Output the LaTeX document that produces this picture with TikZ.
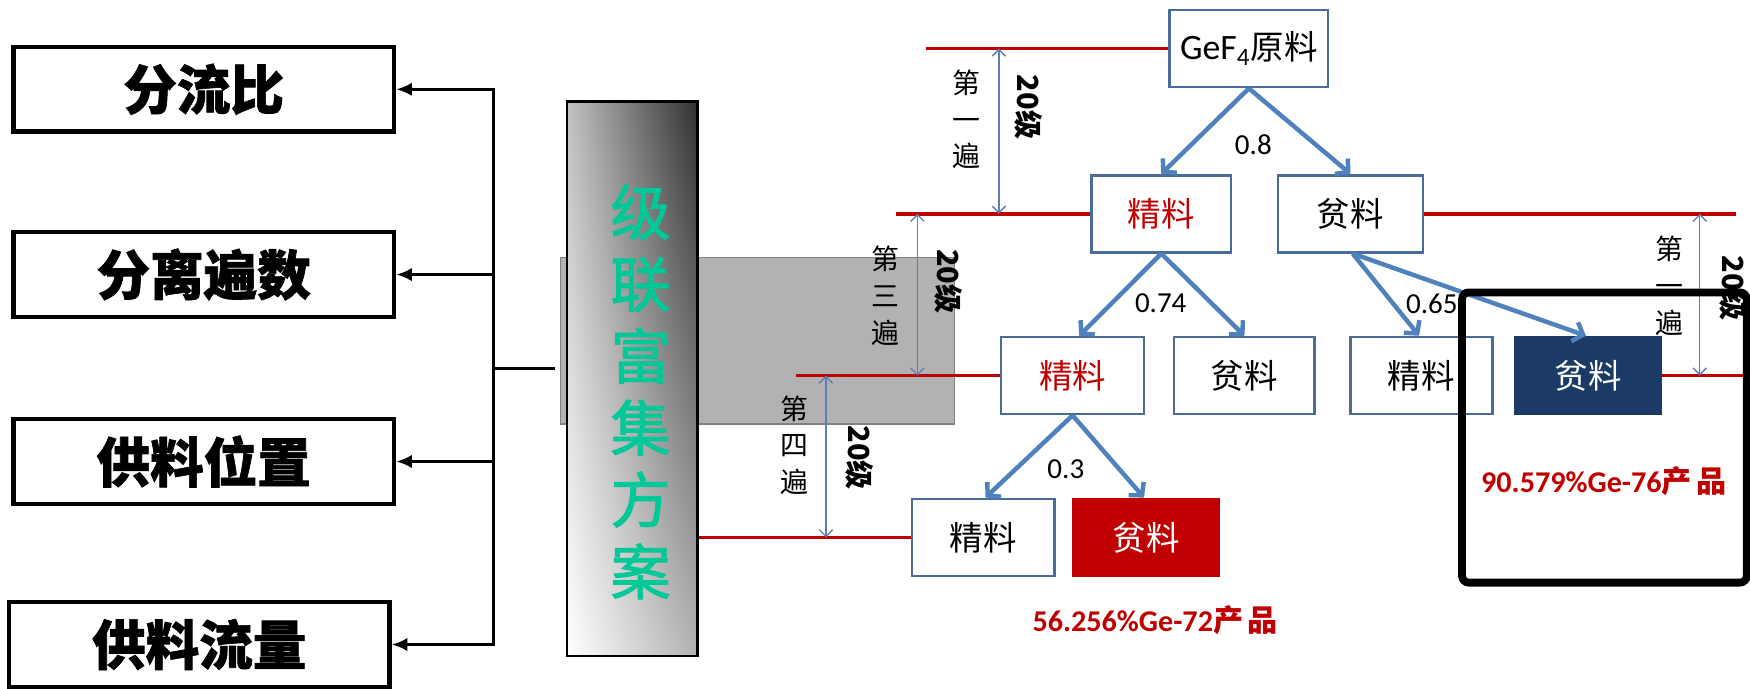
\documentclass[tikz,border=0pt]{standalone}
\usepackage{fontspec}
\setmainfont{Noto Sans CJK SC}
\newfontfamily\latfont{Carlito}
\newfontfamily\heavyfont{Noto Sans CJK SC}[BoldFeatures={FakeBold=1.2}]
\newfontfamily\greenfont{Noto Sans CJK SC}[FakeBold=1.6]
\usetikzlibrary{arrows.meta}
\definecolor{lred}{HTML}{C00000}
\definecolor{bborder}{HTML}{4A6C9B}
\definecolor{barrow}{HTML}{4F81BD}
\definecolor{dimc}{HTML}{5B7FB5}
\definecolor{navyfill}{HTML}{1B3A66}
\definecolor{schemegreen}{HTML}{00C896}
\pgfdeclarefunctionalshading{schemeshade}{\pgfpoint{0bp}{0bp}}{\pgfpoint{100bp}{100bp}}{}{
  25 sub 50 div exch 25 sub 50 div
  2 copy mul -0.27 mul
  exch -0.30 mul add
  exch -0.24 mul add
  1.0 add
  dup 0 lt {pop 0} if dup 1 gt {pop 1} if
  dup dup}
\tikzset{
  leftbox/.style={draw=black, line width=2pt, minimum width=170.5pt, minimum height=38pt, inner sep=0pt, font=\heavyfont\fontsize{24}{24}\selectfont\bfseries},
  treebox/.style={draw=bborder, line width=1.2pt, minimum width=64pt, minimum height=34.5pt, inner sep=0pt, fill=white, font=\fontsize{15}{15}\selectfont},
  redline/.style={lred, line width=1.6pt},
  flow/.style={barrow, line width=2pt, -{Straight Barb[length=4pt,width=9pt,line width=2pt]}},
  dimarrow/.style={dimc, line width=0.6pt, {Straight Barb[length=3pt,width=6pt]}-{Straight Barb[length=3pt,width=6pt]}},
  bracketarr/.style={black, line width=1.5pt, -{Latex[length=7pt,width=6pt]}},
  vlabel/.style={align=center, inner sep=0pt, font=\fontsize{12.5}{16.5}\selectfont},
  rotlabel/.style={rotate=-90, inner sep=0pt, font=\fontsize{13}{13}\selectfont\bfseries},
  ratio/.style={inner sep=0pt, font=\latfont\fontsize{13}{13}\selectfont},
  prod/.style={lred, inner sep=0pt, font=\fontsize{13.5}{13.5}\selectfont\bfseries}
}
\begin{document}
\begin{tikzpicture}[x=0.5pt, y=-0.5pt]
\useasboundingbox (0,0) rectangle (1568,617);
% left boxes
\node[leftbox] (b1) at (182.5,80) {分流比};
\node[leftbox] (b2) at (182.5,246) {分离遍数};
\node[leftbox] (b3) at (182.5,413.5) {供料位置};
\node[leftbox] (b4) at (178.5,577.5) {供料流量};
% bracket
\coordinate (hub) at (442,330);
\coordinate (stub) at (497,330);
\draw[black, line width=1.5pt] (stub) -- (hub);
\draw[bracketarr] (hub) |- (b1.east);
\draw[bracketarr] (hub) |- (b4.east);
\draw[bracketarr] (hub |- b2.east) -- (b2.east);
\draw[bracketarr] (hub |- b3.east) -- (b3.east);
% gray background rectangle
\draw[fill=black!30, draw=black!50, line width=0.6pt] (502,231) rectangle (855,380);
% gradient box
\node[draw=black, line width=1pt, minimum width=58.5pt, minimum height=248.5pt, inner sep=0pt,
      shade, shading=schemeshade] (scheme) at (566.5,339.5) {};
\node[text=schemegreen, align=center, inner sep=0pt, font=\greenfont\fontsize{27}{32.2}\selectfont] (schemetext) at (574,351) {级\\联\\富\\集\\方\\案};
% tree boxes
\node[treebox, minimum width=71pt] (gef) at (1119,43.5) {{\latfont\fontsize{16}{16}\selectfont GeF\textsubscript{4}}原料};
\node[treebox, text=lred, minimum width=62.5pt] (j2) at (1040.5,191.5) {精料};
\node[treebox, minimum width=65pt] (g2) at (1210,191.5) {贫料};
\node[treebox, text=lred] (j3) at (961,336.5) {精料};
\node[treebox, minimum width=63pt] (g3) at (1115,336.5) {贫料};
\node[treebox, minimum width=63.5pt] (j3r) at (1273.5,336.5) {精料};
\node[treebox, draw=navyfill, fill=navyfill, text=white, minimum width=65pt] (dg3) at (1423,336.5) {贫料};
\node[treebox] (j4) at (881,481.5) {精料};
\node[treebox, draw=lred, fill=lred, text=white, minimum width=65pt] (rg4) at (1027,481.5) {贫料};
% red level lines
\coordinate (l1s) at (830,43.5);
\coordinate (l2s) at (803,191.5);
\coordinate (l2e) at (1555,191.5);
\coordinate (l3s) at (713,336.5);
\coordinate (l3e) at (1568,336.5);
\draw[redline] (l1s) -- (gef.west);
\draw[redline] (l2s) -- (j2.west);
\draw[redline] (g2.east) -- (l2e);
\draw[redline] (l3s) -- (j3.west);
\draw[redline] (dg3.east) -- (l3e);
\draw[redline] (scheme.east |- j4.west) -- (j4.west);
% flow arrows
\draw[flow] (gef.south) -- (j2.north);
\draw[flow] (gef.south) -- (g2.north);
\draw[flow] (j2.south) -- ([xshift=3pt]j3.north);
\draw[flow] (j2.south) -- (g3.north);
\draw[flow] ([xshift=1pt]g2.south) -- ([xshift=-1pt]j3r.north);
\draw[flow] ([xshift=1pt]g2.south) -- ([xshift=-1pt]dg3.north);
\draw[flow] (j3.south) -- ([xshift=1pt]j4.north);
\draw[flow] (j3.south) -- ([xshift=-1pt]rg4.north);
\node[ratio] (r08) at (1123,130) {0.8};
\node[ratio] (r074) at (1040,272) {0.74};
\node[ratio] (r065) at (1283,272) {0.65};
\node[ratio] (r03) at (955,420) {0.3};
% dimension arrows
\coordinate (d1a) at (895,43.5);  \coordinate (d1b) at (895,191.5);
\coordinate (d2a) at (822,191.5); \coordinate (d2b) at (822,336.5);
\coordinate (d3a) at (740,336.5); \coordinate (d3b) at (740,481.5);
\coordinate (d4a) at (1523,191.5); \coordinate (d4b) at (1523,336.5);
\draw[dimarrow] (d1a) -- (d1b);
\draw[dimarrow] (d2a) -- (d2b);
\draw[dimarrow] (d3a) -- (d3b);
\draw[dimarrow] (d4a) -- (d4b);
\node[vlabel] (v1) at (866,107) {第\\一\\遍};
\node[vlabel] (v3) at (793,265) {第\\三\\遍};
\node[vlabel] (v4) at (712,399) {第\\四\\遍};
\node[vlabel] (v1r) at (1496,256) {第\\一\\遍};
\node[rotlabel] (s1) at (922,96) {20级};
\node[rotlabel] (s2) at (850,252) {20级};
\node[rotlabel] (s3) at (770,410) {20级};
\node[rotlabel] (s4) at (1553,258) {20级};
% products
\node[prod] (p72) at (1035,556) {{\latfont 56.256\%Ge-72}产\kern2pt 品};
\node[prod] (p76) at (1437,431) {{\latfont 90.579\%Ge-76}产\kern2pt 品};
% highlight frame
\draw[black, line width=3.5pt, rounded corners=3pt] (1310,262) rectangle (1565,522);
\end{tikzpicture}
\end{document}
